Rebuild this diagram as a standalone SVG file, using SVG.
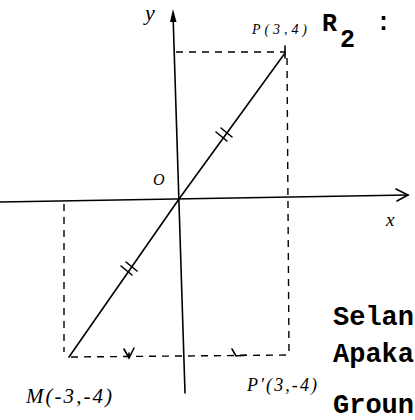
<svg xmlns="http://www.w3.org/2000/svg" width="415" height="420" viewBox="0 0 415 420">
<style>
.ln{stroke:#000;stroke-width:1.6;fill:none;stroke-linecap:round}
.ds{stroke:#000;stroke-width:1.4;fill:none;stroke-dasharray:7 6}
.hw{font-family:"Liberation Serif",serif;font-style:italic;fill:#000}
.tw{font-family:"Liberation Mono",monospace;font-weight:bold;fill:#000}
</style>
<rect width="415" height="420" fill="#fff"/>
<g id="axes">
<path class="ln" d="M0,202 L408,195"/>
<path class="ln" d="M396,189 L408,195 L397,201"/>
<path class="ln" d="M173,14 L185,393"/>
<path d="M173,9 L176.5,22 L170,22 Z" fill="#000"/>
</g>
<g id="connectors">
<path class="ds" d="M176,52 L285,52"/>
<path class="ln" d="M285,46 L285,58"/>
<path class="ds" d="M287,58 L289,355"/>
<path class="ds" d="M64,204 L64,352"/>
<path class="ds" d="M71,357 L290,355"/>
<path class="ln" d="M69,357 L179,199 L285,53"/>
<g id="ticks">
<path class="ln" d="M216,132 L227,141 M221,128 L232,137"/>
<path class="ln" d="M121,266 L132,275 M126,262 L137,271"/>
<path class="ln" d="M124,349 L129,358 L134,348 M129,358 L129,353"/>
<path class="ln" d="M232,349 L236,356 L246,355"/>
</g>
</g>
<g id="labels">
<text class="hw" x="145" y="20" font-size="22">y</text>
<text class="hw" x="252" y="34" font-size="14" textLength="55">P(3,4)</text>
<text class="hw" x="153" y="185" font-size="16">O</text>
<text class="hw" x="386" y="226" font-size="19" font-style="normal">x</text>
<text class="hw" x="26" y="403" font-size="21" textLength="86">M(-3,-4)</text>
<text class="hw" x="247" y="391" font-size="18" textLength="70">P'(3,-4)</text>
</g>
<g id="text">
<text class="tw" x="322" y="31" font-size="25">R</text>
<text class="tw" x="340" y="47" font-size="25">2</text>
<text class="tw" x="376" y="30" font-size="25">:</text>
<text class="tw" x="333" y="325" font-size="27" textLength="81">Selan</text>
<text class="tw" x="333" y="362" font-size="27" textLength="81">Apaka</text>
<text class="tw" x="333" y="413" font-size="27" textLength="81">Groun</text>
</g>
</svg>
